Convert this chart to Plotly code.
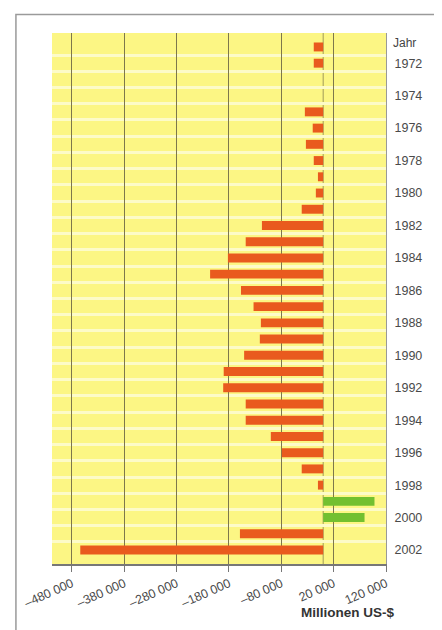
import plotly.graph_objects as go

years = list(range(1971, 2003))
values = [-18000, -18000, 0, 0, -35000, -20000, -33000, -18000, -10000, -14000,
          -41000, -117000, -148000, -182000, -216000, -157000, -133000, -119000,
          -121000, -151000, -190000, -191000, -148000, -148000, -100000, -79000,
          -41000, -10000, 98000, 79000, -159000, -464000]
x_tickvals = [-480000, -380000, -280000, -180000, -80000, 20000, 120000]
x_ticktext = ["\u2013480 000", "\u2013380 000", "\u2013280 000", "\u2013180 000",
              "\u201380 000", "20 000", "120 000"]
y_tickvals = list(range(1972, 2003, 2))

NEG = "#e95a1e"
POS = "#72c030"
colors = [POS if v > 0 else NEG for v in values]

fig = go.Figure()
fig.add_trace(go.Bar(
    x=values, y=years, orientation="h",
    marker=dict(color=colors, line=dict(width=0)),
    width=0.55, showlegend=False,
))

fig.update_layout(
    width=442, height=630,
    margin=dict(l=44, r=64, t=25, b=74),
    paper_bgcolor="white",
    plot_bgcolor="#fcf684",
    font=dict(family="Liberation Sans, Arial, sans-serif", size=12, color="#3a3a3a"),
    bargap=0.45,
)
fig.update_xaxes(
    range=[-518000, 120000],
    tickvals=x_tickvals, ticktext=x_ticktext,
    tickangle=-24,
    showgrid=True, gridcolor="#7d774c", gridwidth=1,
    zeroline=False,
    showline=True, linecolor="#777777", linewidth=1.5,
    ticks="outside", ticklen=6, tickcolor="#777777",
    tickfont=dict(size=12.5, color="#4a4a4a"),
    automargin=False,
)
fig.update_yaxes(
    range=[2002.86, 1970.14],
    side="right",
    tickvals=y_tickvals,
    showgrid=False, zeroline=False,
    showline=True, linecolor="#999999", linewidth=1, mirror=False,
    ticks="", ticklabelstandoff=5,
    tickfont=dict(size=12.5, color="#4a4a4a"),
    minor=dict(tickvals=[y + 0.5 for y in years[:-1]], showgrid=True,
               gridcolor="#fdfbc8", gridwidth=2.5, ticks=""),
    automargin=False,
)
# zero line
fig.add_shape(type="line", xref="x", yref="paper", x0=0, x1=0, y0=0, y1=1,
              line=dict(color="#a09a5a", width=1), layer="below")

fig.add_annotation(text="Jahr", xref="paper", yref="paper", x=1.0, y=0.982,
                   xanchor="left", yanchor="middle", xshift=5, showarrow=False,
                   font=dict(size=12, color="#444444"))
fig.add_annotation(text="<b>Millionen US-$</b>", xref="paper", yref="paper",
                   x=1.03, y=-0.092, xanchor="right", yanchor="middle",
                   showarrow=False, font=dict(size=13.5, color="#333333"))
# outer frame
fig.add_shape(type="rect", xref="paper", yref="paper",
              x0=-0.108, x1=1.3, y0=-0.2, y1=1.035,
              line=dict(color="#9a9a9a", width=1.5), layer="below")

fig.write_html("out.html")
